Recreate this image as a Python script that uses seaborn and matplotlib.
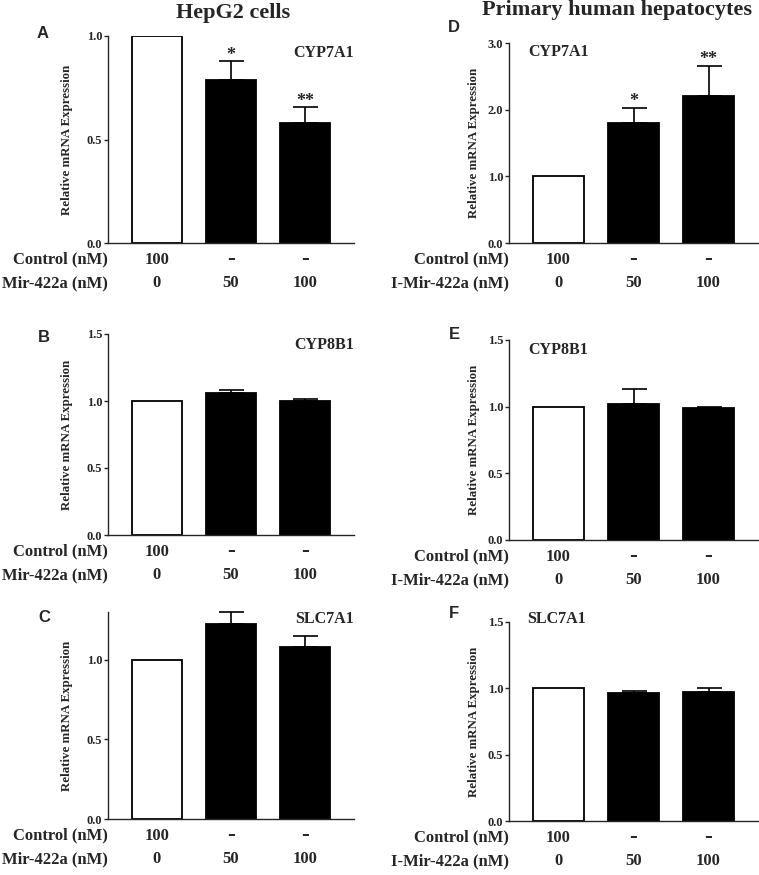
import matplotlib
matplotlib.use("Agg")
import matplotlib.pyplot as plt
import seaborn as sns

# bar groups (control, 50 nM, 100 nM)
groups = ["ctrl", "50", "100"]
control_row = ["100", "-", "-"]
dose_row = ["0", "50", "100"]

# HepG2 cells
hepg2_cyp7a1 = [1.0, 0.787, 0.58]
hepg2_cyp7a1_err = [0.0, 0.093, 0.077]
hepg2_cyp7a1_stars = ["", "*", "**"]
hepg2_cyp8b1 = [1.0, 1.062, 1.0]
hepg2_cyp8b1_err = [0.0, 0.018, 0.018]
hepg2_slc7a1 = [1.0, 1.225, 1.079]
hepg2_slc7a1_err = [0.0, 0.072, 0.073]

# primary human hepatocytes
phh_cyp7a1 = [1.0, 1.8, 2.2]
phh_cyp7a1_err = [0.0, 0.23, 0.46]
phh_cyp7a1_stars = ["", "*", "**"]
phh_cyp8b1 = [1.0, 1.02, 0.99]
phh_cyp8b1_err = [0.0, 0.11, 0.01]
phh_slc7a1 = [1.0, 0.962, 0.97]
phh_slc7a1_err = [0.0, 0.018, 0.03]

SERIF = "Liberation Serif"
SANS = "Liberation Sans"
W, H = 759, 875

sns.set_style("ticks")
plt.rcParams["font.family"] = [SERIF, "DejaVu Serif"]
plt.rcParams["axes.linewidth"] = 1.0

fig = plt.figure(figsize=(W / 100, H / 100), dpi=100)


def px_axes(x0, x1, y0, y1):
	return fig.add_axes([x0 / W, 1 - y1 / H, (x1 - x0) / W, (y1 - y0) / H])


def draw_panel(ax, values, errors, ylim, yticks, gene, gene_xy, gene_ha, dose_label, stars=None, ylabel_x=-0.142):
	sns.barplot(x=groups, y=values, hue=groups, palette=["white", "black", "black"],
		edgecolor="black", linewidth=1.3, width=0.68, legend=False, ax=ax)
	for i, (v, e) in enumerate(zip(values, errors)):
		if e > 0:
			ax.errorbar(i, v, yerr=[[0], [e]], fmt="none", ecolor="black",
				elinewidth=1.2, capsize=9, capthick=1.2, clip_on=False)
		if stars and stars[i]:
			ax.annotate(stars[i], (i, v + e), xytext=(0, -2), textcoords="offset points",
				ha="center", va="bottom", fontsize=13, fontweight="bold")
	ax.set_xlim(-0.66, 2.66)
	ax.set_ylim(*ylim)
	ax.set_yticks(yticks)
	ax.set_yticklabels([f"{t:.1f}" for t in yticks], fontsize=9, fontweight="bold")
	ax.set_xticks([])
	ax.set_xlabel("")
	ax.tick_params(axis="y", length=3, width=1.0, pad=1)
	sns.despine(ax=ax)
	ax.set_ylabel("Relative mRNA Expression", fontsize=9.3, fontweight="bold")
	ax.yaxis.set_label_coords(ylabel_x, 0.5)
	ax.text(gene_xy[0], gene_xy[1], gene, transform=ax.transAxes, ha=gene_ha, va="center",
		fontsize=11.5, fontweight="bold")
	# condition table under the bars
	for row_text, row_vals, off in [("Control (nM)", control_row, -12), (dose_label, dose_row, -29)]:
		ax.annotate(row_text, (0, 0), xycoords="axes fraction", xytext=(0, off),
			textcoords="offset points", ha="right", va="center", fontsize=12, fontweight="bold")
		for i, t in enumerate(row_vals):
			ax.annotate(t, (i, 0), xycoords=("data", "axes fraction"), xytext=(0, off),
				textcoords="offset points", ha="center", va="center",
				fontsize=17 if t == "-" else 12, fontweight="bold")


ax_a = px_axes(108, 354, 36, 243)
draw_panel(ax_a, hepg2_cyp7a1, hepg2_cyp7a1_err, (0, 1.0), [0.0, 0.5, 1.0], "CYP7A1",
	(1.0, 0.92), "right", "Mir-422a (nM)", stars=hepg2_cyp7a1_stars)
ax_b = px_axes(108, 354, 334, 535)
draw_panel(ax_b, hepg2_cyp8b1, hepg2_cyp8b1_err, (0, 1.5), [0.0, 0.5, 1.0, 1.5], "CYP8B1",
	(1.0, 0.945), "right", "Mir-422a (nM)")
ax_c = px_axes(108, 354, 612, 819)
draw_panel(ax_c, hepg2_slc7a1, hepg2_slc7a1_err, (0, 1.3), [0.0, 0.5, 1.0], "SLC7A1",
	(1.0, 0.966), "right", "Mir-422a (nM)")

ax_d = px_axes(509, 758, 43, 243)
draw_panel(ax_d, phh_cyp7a1, phh_cyp7a1_err, (0, 3.0), [0.0, 1.0, 2.0, 3.0], "CYP7A1",
	(0.076, 0.955), "left", "I-Mir-422a (nM)", stars=phh_cyp7a1_stars, ylabel_x=-0.116)
ax_e = px_axes(509, 758, 340, 540)
draw_panel(ax_e, phh_cyp8b1, phh_cyp8b1_err, (0, 1.5), [0.0, 0.5, 1.0, 1.5], "CYP8B1",
	(0.076, 0.95), "left", "I-Mir-422a (nM)", ylabel_x=-0.116)
ax_f = px_axes(509, 758, 622, 821)
draw_panel(ax_f, phh_slc7a1, phh_slc7a1_err, (0, 1.5), [0.0, 0.5, 1.0, 1.5], "SLC7A1",
	(0.072, 1.015), "left", "I-Mir-422a (nM)", ylabel_x=-0.116)

# column titles and panel letters
fig.text(233 / W, 1 - 18 / H, "HepG2 cells", ha="center", va="baseline", fontsize=16, fontweight="bold")
fig.text(617 / W, 1 - 15 / H, "Primary human hepatocytes", ha="center", va="baseline",
	fontsize=16, fontweight="bold")
for letter, x, y in [("A", 43, 33), ("B", 44, 337), ("C", 44, 617),
		("D", 454, 27), ("E", 454, 335), ("F", 454, 614)]:
	fig.text(x / W, 1 - y / H, letter, ha="center", va="center", fontsize=12,
		fontweight="bold", family=SANS)

plt.savefig("out.png", dpi=100)
